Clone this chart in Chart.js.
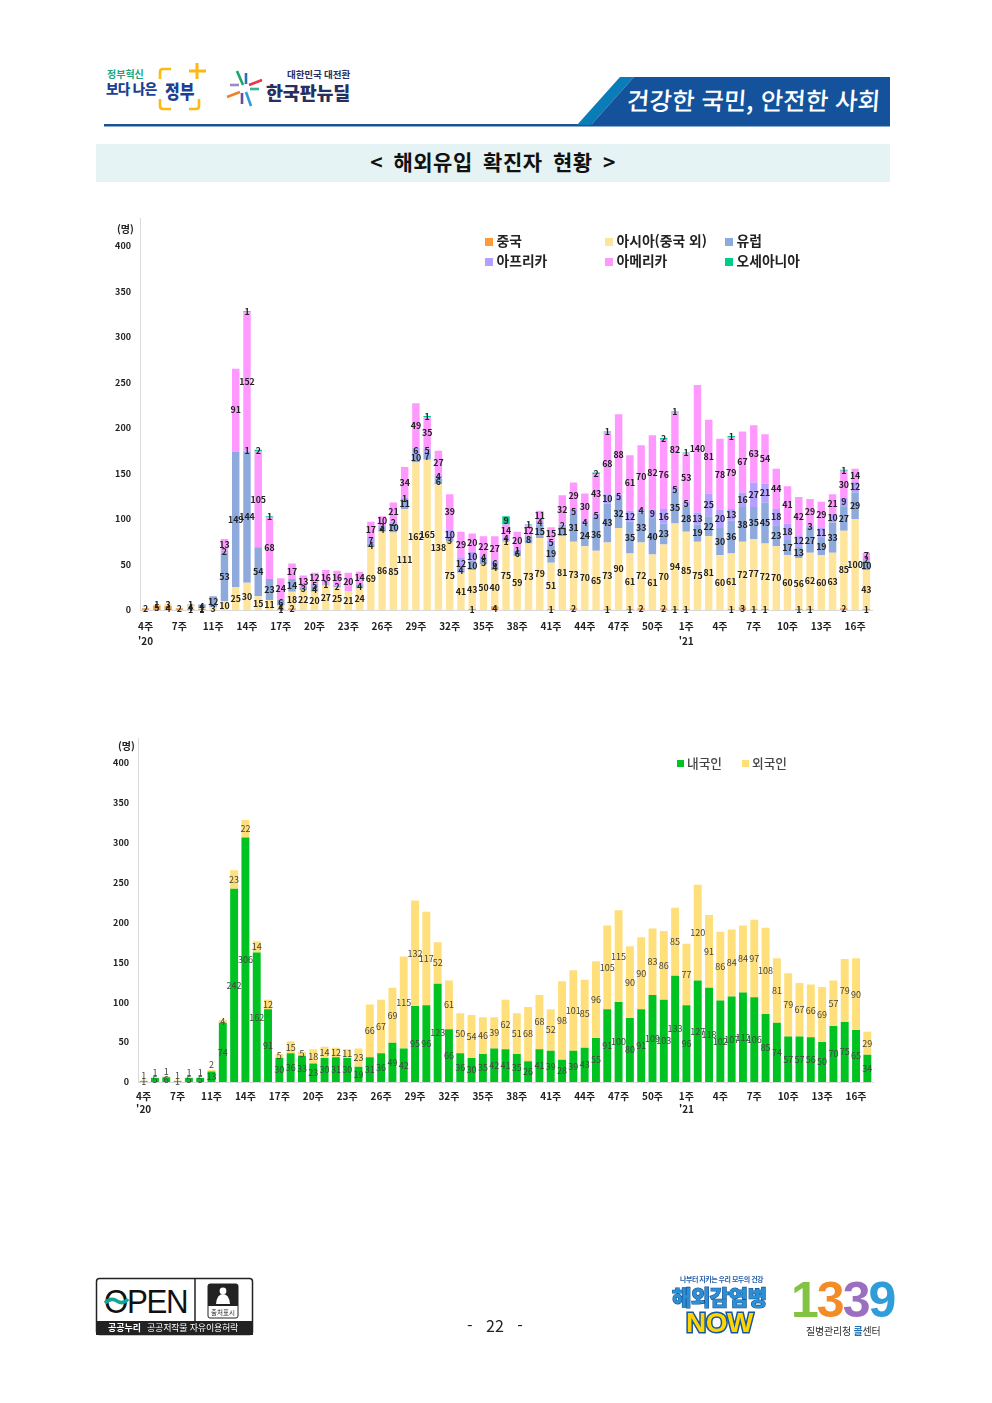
<!DOCTYPE html>
<html lang="ko"><head><meta charset="utf-8">
<script src="https://cdn.jsdelivr.net/npm/chart.js@4"></script>
<style>
html,body{margin:0;padding:0;background:#fff}
body{position:relative;width:992px;height:1403px;overflow:hidden;font-family:"Noto Sans CJK KR","Noto Sans",sans-serif}
.a{position:absolute;white-space:nowrap;line-height:1}
canvas{position:absolute}
</style></head><body>
<svg class="a" style="left:0;top:0" width="992" height="1403">
  <rect x="104" y="124" width="786" height="2.5" fill="#1a5296"/>
  <polygon points="620,77 634,77 591,125 577,125" fill="#0a7cb8"/>
  <polygon points="634,77 890,77 890,125 591,125" fill="#15529c"/>
  <path d="M171 69h-8q-3 0-3 3v7M160 99v7q0 3 3 3h8M189 109h7q3 0 3-3v-7" fill="none" stroke="#fdb813" stroke-width="2.6"/>
  <path d="M197 63v16M189 71h17" stroke="#fdb813" stroke-width="3" fill="none"/>
  <g stroke-width="2.6" fill="none">
    <path d="M237 71l6 14" stroke="#1aa568"/><path d="M246 73v11" stroke="#2f6fb7"/><path d="M249 85l13-5" stroke="#e8334a"/>
    <path d="M250 89h9" stroke="#38b39a"/><path d="M246 92l5 14" stroke="#2f9bd7"/><path d="M242 93v11" stroke="#6a4c9c"/>
    <path d="M227 97l13-5" stroke="#f07f2a"/><path d="M230 85h9" stroke="#9b8dc4"/>
  </g>
  <rect x="96.5" y="1278.5" width="156" height="56" rx="3" fill="#fff" stroke="#222" stroke-width="1.5"/>
  <rect x="96" y="1321" width="157" height="14" fill="#222"/>
  <line x1="195" y1="1279" x2="195" y2="1321" stroke="#222" stroke-width="1.5"/>
  <rect x="208" y="1284" width="30" height="34" rx="2" fill="#fff" stroke="#222"/>
  <path d="M208 1306v-20q0-2 2-2h26q2 0 2 2v20z" fill="#222"/>
  <circle cx="223" cy="1291" r="3.4" fill="#fff"/><path d="M216 1304q1-10 7-10t7 10z" fill="#fff"/>
</svg>

<div class="a" style="left:107px;top:69px;font-size:10px;font-weight:700;color:#1aa57f">정부혁신</div>
<div class="a" style="left:106px;top:82px;font-size:13.5px;font-weight:900;color:#1c3f94;letter-spacing:-.6px">보다 나은</div>
<div class="a" style="left:165px;top:83px;font-size:16px;font-weight:900;color:#1c3f94;transform:scaleY(1.2)">정부</div>
<div class="a" style="left:287px;top:70px;font-size:9.5px;font-weight:700;color:#26305f;letter-spacing:-.1px">대한민국 대전환</div>
<div class="a" style="left:266px;top:83px;font-size:18.5px;font-weight:900;color:#26305f;letter-spacing:-.2px">한국판뉴딜</div>
<div class="a" style="left:627px;top:88px;font-size:24.5px;font-weight:500;color:#fff;transform:skewX(-4deg)">건강한 국민, 안전한 사회</div>

<div class="a" style="left:96px;top:144px;width:794px;height:38px;background:#e5f3f4"></div>
<div class="a" style="left:96px;top:151px;width:794px;text-align:center;font-size:21px;font-weight:700;color:#111;letter-spacing:.5px;word-spacing:4px">&lt; 해외유입 확진자 현황 &gt;</div>

<canvas id="chart1" style="left:90px;top:204px" width="800" height="456"></canvas>
<canvas id="chart2" style="left:88px;top:724px" width="800" height="403"></canvas>
<div class="a" style="left:117px;top:224px;font-size:10px;font-weight:700;color:#222">(명)</div>
<div class="a" style="left:118px;top:741px;font-size:10px;font-weight:700;color:#222">(명)</div>
<div id="legends"></div>

<div class="a" style="left:104px;top:1284px;font-size:34px;line-height:34px;font-weight:500;color:#111;font-family:'Liberation Sans',sans-serif;letter-spacing:-1.5px;transform-origin:left;transform:scaleX(.92)">OPEN</div>
<svg class="a" style="left:0;top:0" width="992" height="1403"><path d="M105 1303q6-6 12-2t11-2" fill="none" stroke="#12a594" stroke-width="3.5"/></svg>
<div class="a" style="left:211px;top:1309px;font-size:6.5px;color:#222">출처표시</div>
<div class="a" style="left:108px;top:1323px;font-size:9px;font-weight:700;color:#fff">공공누리</div>
<div class="a" style="left:147px;top:1323px;font-size:9px;color:#fff;letter-spacing:-.2px">공공저작물 자유이용허락</div>
<div class="a" style="left:445px;top:1317px;width:100px;text-align:center;font-size:16px;color:#222;word-spacing:9px">- 22 -</div>
<div class="a" style="left:680px;top:1276px;font-size:7px;font-weight:700;color:#2a5fa8;letter-spacing:-.5px">나부터 지키는 우리 모두의 건강</div>
<div class="a" style="left:672px;top:1286px;font-size:21px;font-weight:900;color:#2c8fd6;letter-spacing:-.4px;-webkit-text-stroke:1.2px #14508f;paint-order:stroke fill">해외감염병</div>
<div class="a" style="left:686px;top:1309px;font-size:28px;font-weight:900;color:#ffd400;letter-spacing:-.5px;font-family:'Liberation Sans',sans-serif;-webkit-text-stroke:3px #15569e;paint-order:stroke fill">NOW</div>
<div class="a" style="left:791px;top:1275px;font-size:50px;font-weight:900;font-family:'Liberation Sans',sans-serif;letter-spacing:-2px"><span style="color:#82c341">1</span><span style="color:#f28c28">3</span><span style="color:#9a6fc0">3</span><span style="color:#2f9ed8">9</span></div>
<div class="a" style="left:806px;top:1326px;font-size:10px;color:#333;letter-spacing:-.2px">질병관리청 <span style="color:#1b6db4;font-weight:700">콜</span>센터</div>

<script>
const categories = ["4주","5주","6주","7주","8주","9주","11주","12주","13주","14주","15주","16주","17주","18주","19주","20주","21주","22주","23주","24주","25주","26주","27주","28주","29주","30주","31주","32주","33주","34주","35주","36주","37주","38주","39주","40주","41주","42주","43주","44주","45주","46주","47주","48주","49주","50주","51주","52주","1주","2주","3주","4주","5주","6주","7주","8주","9주","10주","11주","12주","13주","14주","15주","16주","17주"];
const yearMarks = {"0":"'20","48":"'21"};
const china   = [2,5,4,2,1,1,0,0,0,0,0,0,1,2,0,0,0,0,0,0,0,0,0,0,0,0,0,0,0,1,0,4,0,0,0,0,1,0,2,0,0,1,0,1,2,0,2,1,1,0,0,0,1,3,1,1,0,0,1,1,0,0,2,0,1];
const asia    = [0,1,3,0,4,1,3,10,25,30,15,11,4,18,22,20,27,25,21,24,69,86,85,111,162,165,138,75,41,43,50,40,75,59,73,79,51,81,73,70,65,73,90,61,72,61,70,94,85,75,81,60,61,72,77,72,70,60,56,62,60,63,85,100,43];
const europe  = [0,0,0,0,1,4,12,53,149,144,54,23,6,14,3,4,1,2,0,4,4,4,10,11,10,7,6,3,4,10,5,4,1,6,8,15,19,11,31,24,36,43,32,35,33,40,23,35,28,19,22,30,36,38,35,45,23,17,13,27,19,33,27,29,10];
const africa  = [0,0,0,0,0,0,0,2,0,1,0,0,0,0,0,5,0,0,0,0,7,3,2,1,6,5,4,10,12,10,4,6,4,1,0,4,5,2,5,4,5,10,5,12,4,9,16,5,5,13,25,20,13,16,27,21,18,18,12,3,11,10,9,12,2];
const america = [0,0,0,0,0,0,0,13,91,152,105,68,24,17,13,12,16,16,20,14,17,10,21,34,49,35,27,39,29,20,22,27,14,20,12,11,15,32,29,30,43,68,88,61,70,82,76,82,53,140,81,78,79,67,63,54,44,41,42,29,29,21,30,14,7];
const oceania = [0,0,0,0,0,0,0,0,0,1,2,1,0,0,0,0,0,0,0,0,0,0,0,0,0,1,0,0,0,0,0,0,9,0,1,0,0,0,0,0,2,1,0,0,0,0,2,1,1,0,0,0,1,0,0,0,0,0,0,0,0,0,1,0,0];
const domestic = [1,5,6,1,5,5,13,74,242,306,162,91,30,36,33,23,30,31,30,19,31,36,49,42,95,96,123,66,36,30,35,42,41,35,26,41,39,28,39,43,55,91,100,80,91,109,103,133,96,127,118,102,107,112,106,85,74,57,57,56,50,70,75,65,34];
const foreign  = [1,1,1,1,1,1,2,4,23,22,14,12,5,15,5,18,14,12,11,23,66,67,69,115,132,117,52,61,50,54,46,39,62,51,68,68,52,98,101,85,96,105,115,90,90,83,86,85,77,120,91,86,84,84,97,108,81,79,67,66,69,57,79,90,29];
const unitTop = 430;
const tickStep = 50;

const labelFont = '"Noto Sans CJK KR","Noto Sans",sans-serif';
const barLabels = {
  id:'barLabels',
  afterDatasetsDraw(chart,args,opts){
    const c=chart.ctx; c.save();
    c.textAlign='center'; c.textBaseline='middle';
    c.font=opts.font; c.fillStyle=opts.color;
    chart.data.datasets.forEach((ds,i)=>{
      chart.getDatasetMeta(i).data.forEach((el,j)=>{
        const v=ds.data[j]; if(!v) return;
        let y=(el.y+el.base)/2;
        if(opts.liftSmall && i===opts.liftSmall.dataset && v<=opts.liftSmall.max) y=el.y-opts.liftSmall.gap;
        c.fillText(String(v),el.x,y);
      });
    });
    c.restore();
  }
};
function makeChart(id,datasets,barPct,yWidth,xHeight,pad,lbl,tickPad,tickLH){
  return new Chart(document.getElementById(id),{
    type:'bar',
    data:{labels:categories,datasets},
    plugins:[barLabels],
    options:{
      responsive:false,animation:false,devicePixelRatio:1,
      layout:{padding:pad},
      datasets:{bar:{barPercentage:barPct,categoryPercentage:1,borderSkipped:false}},
      plugins:{legend:{display:false},tooltip:{enabled:false},barLabels:lbl},
      scales:{
        x:{stacked:true,grid:{display:false,drawTicks:false},border:{color:'#d9d9d9'},
          afterFit(s){s.height=xHeight},
          ticks:{autoSkip:false,maxRotation:0,padding:tickPad,color:'#222',font:{size:10,weight:'700',family:labelFont,lineHeight:tickLH},
            callback(v,i){ if(i%3) return ''; const y=yearMarks[i]; return y?[categories[i],y]:categories[i]; }}},
        y:{stacked:true,min:0,max:unitTop,grid:{display:false,drawTicks:false},border:{color:'#d9d9d9'},
          afterFit(s){s.width=yWidth},
          afterBuildTicks(s){s.ticks=s.ticks.filter(t=>t.value%tickStep===0)},
          ticks:{stepSize:tickStep,padding:9,color:'#222',font:{size:9,weight:'700',family:labelFont}}}
      }
    }
  });
}
const series1=[["중국",china,"#ff9a3c"],["아시아(중국 외)",asia,"#ffe59c"],["유럽",europe,"#8ea9db"],["아프리카",africa,"#b4a0ff"],["아메리카",america,"#ff99ff"],["오세아니아",oceania,"#00cc8a"]];
const series2=[["내국인",domestic,"#00c322"],["외국인",foreign,"#ffdf7a"]];
const ds=s=>s.map(([label,data,backgroundColor])=>({label,data,backgroundColor}));
const c1=makeChart('chart1',ds(series1),.66,50,50,{top:2,right:18},{font:'600 8.8px '+labelFont,color:'#222'},9,1.5);
const c2=makeChart('chart2',ds(series2),.7,50,45,{top:2,right:15},{font:'400 9px '+labelFont,color:'#444',liftSmall:{dataset:1,max:2,gap:5}},8,1.3);
function legend(chart,slots,fs,color,weight,ts,tx){
  const box=document.getElementById('legends');
  chart.data.datasets.forEach((d,i)=>{
    const [x,y]=slots[i];
    box.insertAdjacentHTML('beforeend',
     `<div class="a" style="left:${x}px;top:${y-4}px;width:${ts}px;height:${ts}px;background:${d.backgroundColor}"></div>`+
     `<div class="a" style="left:${x+tx}px;top:${y-fs/2-1}px;font-size:${fs}px;color:${color};font-weight:${weight}">${d.label}</div>`);
  });
}
legend(c1,[[485,242],[605,242],[725,242],[485,262],[605,262],[725,262]],13.8,'#222',700,8,11.5);
legend(c2,[[677,764],[742,764]],12.7,'#444',500,7,10);
</script>
</body></html>
